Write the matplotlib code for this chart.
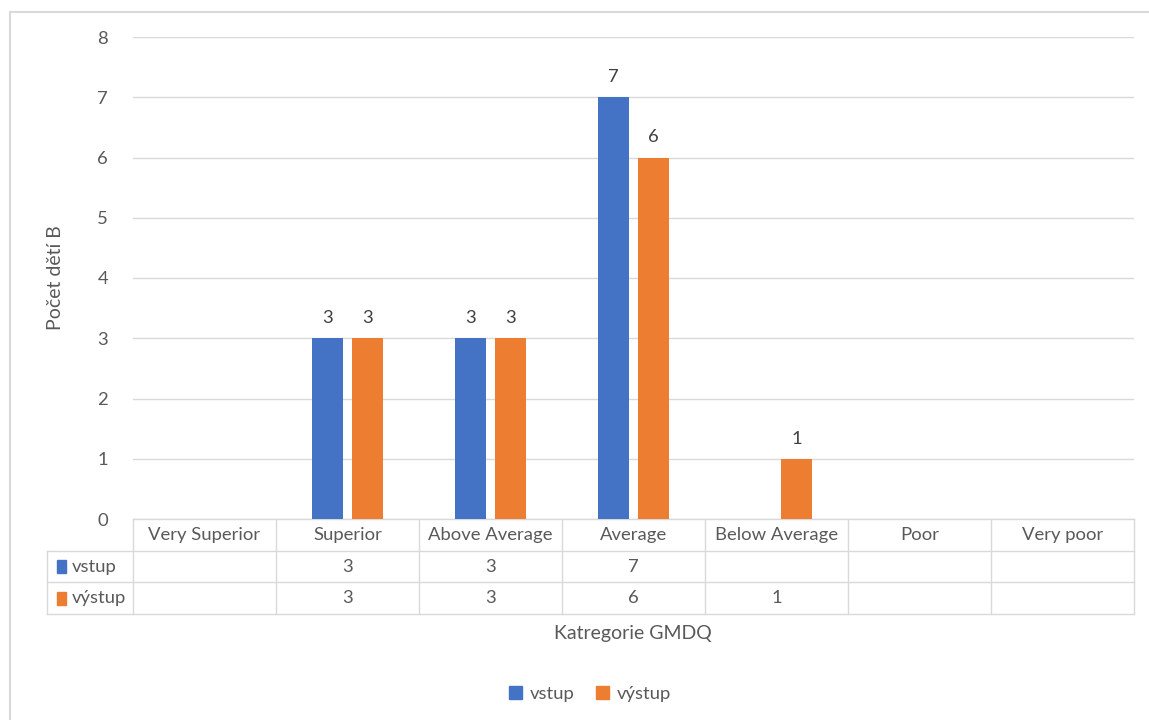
import numpy as np
import matplotlib.pyplot as plt
import matplotlib.transforms as mtransforms
from matplotlib.patches import Rectangle, Patch
from matplotlib.lines import Line2D

plt.rcParams['font.family'] = ['Lato', 'DejaVu Sans']

categories = ["Very Superior", "Superior", "Above Average", "Average",
              "Below Average", "Poor", "Very poor"]
series_names = ["vstup", "výstup"]
vstup = [None, 3, 3, 7, None, None, None]
vystup = [None, 3, 3, 6, 1, None, None]
y_ticks = [0, 1, 2, 3, 4, 5, 6, 7, 8]

BLUE = "#4472C4"
ORANGE = "#ED7D31"
TEXT = "#595959"
GRID = "#D9D9D9"
FS = 13.3

fig = plt.figure(figsize=(11.49, 7.2), dpi=100)
fig.patch.set_facecolor("white")

# outer chart frame (runs off the right and bottom edge)
fig.patches.append(Rectangle((10 / 1149, -0.1), 2.0, 1 - 12 / 720 + 0.1,
                             transform=fig.transFigure, fill=False,
                             edgecolor=GRID, lw=1.5))

ax = fig.add_axes([133 / 1149, 1 - 519 / 720, 1001 / 1149, 482 / 720])
x = np.arange(len(categories))
bw = 0.22
off = 0.14

for vals, color, sign in [(vstup, BLUE, -1), (vystup, ORANGE, 1)]:
    for i, v in enumerate(vals):
        if v is None:
            continue
        ax.bar(x[i] + sign * off, v, width=bw, color=color, zorder=3)
        ax.text(x[i] + sign * off, v + 0.2, str(v), ha="center", va="bottom",
                fontsize=FS, color="#404040")

ax.set_xlim(-0.5, len(categories) - 0.5)
ax.set_ylim(0, 8)
ax.set_yticks(y_ticks)
ax.set_yticklabels([str(t) for t in y_ticks])
ax.tick_params(axis="y", length=0, pad=18, labelsize=FS, labelcolor=TEXT)
ax.set_xticks([])
ax.yaxis.grid(True, color=GRID, lw=1, zorder=0)
for s in ax.spines.values():
    s.set_visible(False)
ax.set_ylabel("Počet dětí B", fontsize=14, color=TEXT, labelpad=24)

# data table under the axis
trans = mtransforms.blended_transform_factory(ax.transData, ax.transAxes)
row_h = 31.7 / 482
left_x = -0.5 - 86 / 143
right_x = len(categories) - 0.5
lkw = dict(color=GRID, lw=1, transform=trans, clip_on=False)

# horizontal lines
ax.add_line(Line2D([-0.5, right_x], [0, 0], **lkw))
for r in range(1, 4):
    ax.add_line(Line2D([left_x, right_x], [-r * row_h, -r * row_h], **lkw))
# vertical lines
ax.add_line(Line2D([left_x, left_x], [-row_h, -3 * row_h], **lkw))
for b in np.arange(-0.5, len(categories), 1.0):
    ax.add_line(Line2D([b, b], [0, -3 * row_h], **lkw))

for i, c in enumerate(categories):
    ax.text(i, -0.5 * row_h, c, ha="center", va="center", fontsize=FS,
            color=TEXT, transform=trans)

for r, (name, vals, color) in enumerate([(series_names[0], vstup, BLUE),
                                         (series_names[1], vystup, ORANGE)]):
    yc = -(r + 1.5) * row_h
    ax.add_patch(Rectangle((left_x + 0.07, yc - 0.014), 0.065, 0.028,
                           transform=trans, color=color, clip_on=False))
    ax.text(left_x + 0.17, yc, name, ha="left", va="center", fontsize=FS,
            color=TEXT, transform=trans)
    for i, v in enumerate(vals):
        if v is not None:
            ax.text(i, yc, str(v), ha="center", va="center", fontsize=FS,
                    color=TEXT, transform=trans)

fig.text(633 / 1149, 1 - 634 / 720, "Katregorie GMDQ", ha="center",
         va="center", fontsize=14, color=TEXT)

handles = [Patch(color=BLUE, label=series_names[0]),
           Patch(color=ORANGE, label=series_names[1])]
fig.legend(handles=handles, loc="center", bbox_to_anchor=(590 / 1149, 1 - 694 / 720),
           ncol=2, frameon=False, fontsize=FS, labelcolor=TEXT,
           handlelength=0.7, handleheight=0.7, handletextpad=0.4, columnspacing=1.2)

fig.savefig("out.png", dpi=100, facecolor="white")
